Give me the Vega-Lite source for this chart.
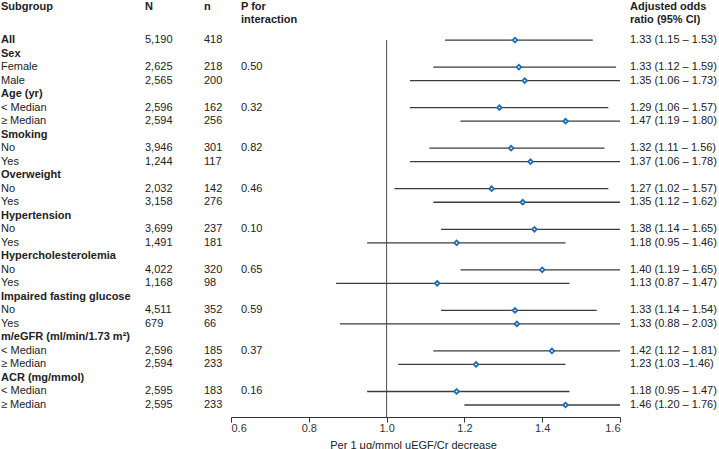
{
  "$schema": "https://vega.github.io/schema/vega-lite/v6.json",
  "padding": 0,
  "autosize": {"type": "pad"},
  "background": "white",
  "bounds": "flush",
  "spacing": 0,
  "datasets": {
    "rows": [
      {"id": "all", "label": "All", "level": "overall", "N": "5,190", "n": "418", "p": "", "est": 1.33, "lo": 1.15, "hi": 1.53, "ci": "1.33 (1.15 – 1.53)"},
      {"id": "sex", "label": "Sex", "level": "group", "N": "", "n": "", "p": "", "est": null, "lo": null, "hi": null, "ci": ""},
      {"id": "sex_f", "label": "Female", "level": "item", "N": "2,625", "n": "218", "p": "0.50", "est": 1.34, "lo": 1.12, "hi": 1.59, "ci": "1.33 (1.12 – 1.59)"},
      {"id": "sex_m", "label": "Male", "level": "item", "N": "2,565", "n": "200", "p": "", "est": 1.355, "lo": 1.06, "hi": 1.73, "ci": "1.35 (1.06 – 1.73)"},
      {"id": "age", "label": "Age (yr)", "level": "group", "N": "", "n": "", "p": "", "est": null, "lo": null, "hi": null, "ci": ""},
      {"id": "age_lo", "label": "< Median", "level": "item", "N": "2,596", "n": "162", "p": "0.32", "est": 1.29, "lo": 1.06, "hi": 1.57, "ci": "1.29 (1.06 – 1.57)"},
      {"id": "age_hi", "label": "≥ Median", "level": "item", "N": "2,594", "n": "256", "p": "", "est": 1.46, "lo": 1.19, "hi": 1.80, "ci": "1.47 (1.19 – 1.80)"},
      {"id": "smk", "label": "Smoking", "level": "group", "N": "", "n": "", "p": "", "est": null, "lo": null, "hi": null, "ci": ""},
      {"id": "smk_no", "label": "No", "level": "item", "N": "3,946", "n": "301", "p": "0.82", "est": 1.32, "lo": 1.11, "hi": 1.56, "ci": "1.32 (1.11 – 1.56)"},
      {"id": "smk_yes", "label": "Yes", "level": "item", "N": "1,244", "n": "117", "p": "", "est": 1.37, "lo": 1.06, "hi": 1.78, "ci": "1.37 (1.06 – 1.78)"},
      {"id": "ow", "label": "Overweight", "level": "group", "N": "", "n": "", "p": "", "est": null, "lo": null, "hi": null, "ci": ""},
      {"id": "ow_no", "label": "No", "level": "item", "N": "2,032", "n": "142", "p": "0.46", "est": 1.27, "lo": 1.02, "hi": 1.57, "ci": "1.27 (1.02 – 1.57)"},
      {"id": "ow_yes", "label": "Yes", "level": "item", "N": "3,158", "n": "276", "p": "", "est": 1.35, "lo": 1.12, "hi": 1.62, "ci": "1.35 (1.12 – 1.62)"},
      {"id": "htn", "label": "Hypertension", "level": "group", "N": "", "n": "", "p": "", "est": null, "lo": null, "hi": null, "ci": ""},
      {"id": "htn_no", "label": "No", "level": "item", "N": "3,699", "n": "237", "p": "0.10", "est": 1.38, "lo": 1.14, "hi": 1.65, "ci": "1.38 (1.14 – 1.65)"},
      {"id": "htn_yes", "label": "Yes", "level": "item", "N": "1,491", "n": "181", "p": "", "est": 1.18, "lo": 0.95, "hi": 1.46, "ci": "1.18 (0.95 – 1.46)"},
      {"id": "hc", "label": "Hypercholesterolemia", "level": "group", "N": "", "n": "", "p": "", "est": null, "lo": null, "hi": null, "ci": ""},
      {"id": "hc_no", "label": "No", "level": "item", "N": "4,022", "n": "320", "p": "0.65", "est": 1.40, "lo": 1.19, "hi": 1.65, "ci": "1.40 (1.19 – 1.65)"},
      {"id": "hc_yes", "label": "Yes", "level": "item", "N": "1,168", "n": "98", "p": "", "est": 1.13, "lo": 0.87, "hi": 1.47, "ci": "1.13 (0.87 – 1.47)"},
      {"id": "ifg", "label": "Impaired fasting glucose", "level": "group", "N": "", "n": "", "p": "", "est": null, "lo": null, "hi": null, "ci": ""},
      {"id": "ifg_no", "label": "No", "level": "item", "N": "4,511", "n": "352", "p": "0.59", "est": 1.33, "lo": 1.14, "hi": 1.54, "ci": "1.33 (1.14 – 1.54)"},
      {"id": "ifg_yes", "label": "Yes", "level": "item", "N": "679", "n": "66", "p": "", "est": 1.335, "lo": 0.88, "hi": 2.03, "ci": "1.33 (0.88 – 2.03)"},
      {"id": "egfr", "label": "m/eGFR (ml/min/1.73 m²)", "level": "group", "N": "", "n": "", "p": "", "est": null, "lo": null, "hi": null, "ci": ""},
      {"id": "egfr_lo", "label": "< Median", "level": "item", "N": "2,596", "n": "185", "p": "0.37", "est": 1.425, "lo": 1.12, "hi": 1.81, "ci": "1.42 (1.12 – 1.81)"},
      {"id": "egfr_hi", "label": "≥ Median", "level": "item", "N": "2,594", "n": "233", "p": "", "est": 1.23, "lo": 1.03, "hi": 1.46, "ci": "1.23 (1.03 –1.46)"},
      {"id": "acr", "label": "ACR (mg/mmol)", "level": "group", "N": "", "n": "", "p": "", "est": null, "lo": null, "hi": null, "ci": ""},
      {"id": "acr_lo", "label": "< Median", "level": "item", "N": "2,595", "n": "183", "p": "0.16", "est": 1.18, "lo": 0.95, "hi": 1.47, "ci": "1.18 (0.95 – 1.47)"},
      {"id": "acr_hi", "label": "≥ Median", "level": "item", "N": "2,595", "n": "233", "p": "", "est": 1.46, "lo": 1.20, "hi": 1.76, "ci": "1.46 (1.20 – 1.76)"}
    ],
    "heads": [
      {"id": "h1", "c1": "Subgroup", "c2": "N", "c3": "n", "c4": "P for", "c5": "Adjusted odds"},
      {"id": "h2", "c1": "", "c2": "", "c3": "", "c4": "interaction", "c5": "ratio (95% CI)"}
    ]
  },
  "resolve": {"scale": {"y": "shared"}},
  "hconcat": [
    {
      "width": 231,
      "height": 416,
      "encoding": {
        "y": {"field": "id", "type": "nominal", "axis": null,
          "scale": {"type": "point", "padding": 0.888, "domain": ["h1","h2","all","sex","sex_f","sex_m","age","age_lo","age_hi","smk","smk_no","smk_yes","ow","ow_no","ow_yes","htn","htn_no","htn_yes","hc","hc_no","hc_yes","ifg","ifg_no","ifg_yes","egfr","egfr_lo","egfr_hi","acr","acr_lo","acr_hi"]}}
      },
      "layer": [
        {"data": {"name": "rows"}, "transform": [{"filter": "datum.level === 'item'"}],
          "mark": {"type": "text", "align": "left", "baseline": "middle"},
          "encoding": {"x": {"value": 1}, "text": {"field": "label"}}},
        {"data": {"name": "rows"}, "transform": [{"filter": "datum.level !== 'item'"}],
          "mark": {"type": "text", "align": "left", "baseline": "middle", "fontWeight": "bold"},
          "encoding": {"x": {"value": 1}, "text": {"field": "label"}}},
        {"data": {"name": "rows"}, "mark": {"type": "text", "align": "left", "baseline": "middle"},
          "encoding": {"x": {"value": 145}, "text": {"field": "N"}}},
        {"data": {"name": "rows"}, "mark": {"type": "text", "align": "left", "baseline": "middle"},
          "encoding": {"x": {"value": 204}, "text": {"field": "n"}}},
        {"data": {"name": "rows"}, "mark": {"type": "text", "align": "left", "baseline": "middle"},
          "encoding": {"x": {"value": 241}, "text": {"field": "p"}}},
        {"data": {"name": "heads"}, "mark": {"type": "text", "align": "left", "baseline": "middle", "fontWeight": "bold", "dy": -6.5},
          "encoding": {"x": {"value": 1}, "text": {"field": "c1"}}},
        {"data": {"name": "heads"}, "mark": {"type": "text", "align": "left", "baseline": "middle", "fontWeight": "bold", "dy": -6.5},
          "encoding": {"x": {"value": 145}, "text": {"field": "c2"}}},
        {"data": {"name": "heads"}, "mark": {"type": "text", "align": "left", "baseline": "middle", "fontWeight": "bold", "dy": -6.5},
          "encoding": {"x": {"value": 204}, "text": {"field": "c3"}}},
        {"data": {"name": "heads"}, "mark": {"type": "text", "align": "left", "baseline": "middle", "fontWeight": "bold", "dy": -6.5},
          "encoding": {"x": {"value": 241}, "text": {"field": "c4"}}}
      ]
    },
    {
      "width": 389,
      "height": 416,
      "encoding": {
        "y": {"field": "id", "type": "nominal", "axis": null,
          "scale": {"type": "point", "padding": 0.888, "domain": ["h1","h2","all","sex","sex_f","sex_m","age","age_lo","age_hi","smk","smk_no","smk_yes","ow","ow_no","ow_yes","htn","htn_no","htn_yes","hc","hc_no","hc_yes","ifg","ifg_no","ifg_yes","egfr","egfr_lo","egfr_hi","acr","acr_lo","acr_hi"]}}
      },
      "layer": [
        {"data": {"name": "rows"}, "transform": [{"filter": "isValid(datum.est)"}],
          "mark": {"type": "rule", "color": "#3d3d3d", "strokeWidth": 1.3},
          "encoding": {
            "x": {"field": "lo", "type": "quantitative",
              "scale": {"domain": [0.6, 1.6], "nice": false, "zero": false, "clamp": true},
              "axis": {"values": [0.6, 0.8, 1.0, 1.2, 1.4, 1.6], "format": ".1f", "title": "Per 1 μg/mmol uEGF/Cr decrease",
                "grid": false, "tickSize": 5, "domainColor": "#333333", "tickColor": "#333333", "domainWidth": 1, "tickWidth": 1,
                "labelColor": "#333333", "labelFontSize": 11, "labelFont": "Liberation Sans", "labelPadding": 0,
                "titleFont": "Liberation Sans", "titleFontSize": 11, "titleFontWeight": "normal", "titleColor": "#222222", "titlePadding": 6, "titleX": 182}},
            "x2": {"field": "hi"}
          }},
        {"data": {"name": "rows"}, "transform": [{"filter": "datum.id === 'all'"}],
          "mark": {"type": "rule", "color": "#4a4a4a", "strokeWidth": 1},
          "encoding": {"x": {"datum": 1.0, "type": "quantitative"}, "y2": {"value": "height"}}},
        {"data": {"name": "rows"}, "transform": [{"filter": "isValid(datum.est)"}],
          "mark": {"type": "point", "shape": "diamond", "filled": false, "fill": "white", "stroke": "#1f6db3", "strokeWidth": 1.8, "size": 22, "opacity": 1},
          "encoding": {"x": {"field": "est", "type": "quantitative"}}},
        {"data": {"name": "rows"}, "mark": {"type": "text", "align": "left", "baseline": "middle", "dx": 10},
          "encoding": {"x": {"datum": 1.6, "type": "quantitative"}, "text": {"field": "ci"}}},
        {"data": {"name": "heads"}, "mark": {"type": "text", "align": "left", "baseline": "middle", "fontWeight": "bold", "dy": -6.5, "dx": 10},
          "encoding": {"x": {"datum": 1.6, "type": "quantitative"}, "text": {"field": "c5"}}}
      ]
    }
  ],
  "config": {
    "view": {"stroke": null},
    "font": "Liberation Sans",
    "text": {"font": "Liberation Sans", "fontSize": 11, "color": "#222222"}
  }
}
